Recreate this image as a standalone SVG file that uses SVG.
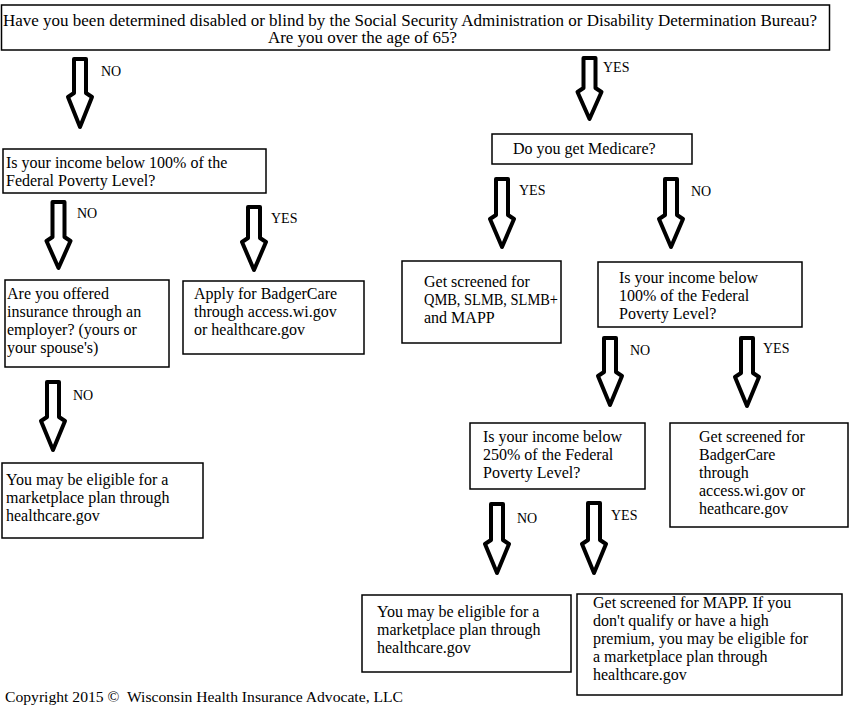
<svg xmlns="http://www.w3.org/2000/svg" width="856" height="710" viewBox="0 0 856 710">
<style>
  .box { fill: #fff; stroke: #000; stroke-width: 1.5; }
  .t { font-family: "Liberation Serif", "Times New Roman", serif; font-size: 16px; fill: #000; }
  .lbl { font-family: "Liberation Serif", "Times New Roman", serif; font-size: 14px; fill: #000; }
  .copy { font-family: "Liberation Serif", "Times New Roman", serif; font-size: 14.5px; fill: #000; }
  .arrow { fill: #fff; stroke: #000; stroke-width: 4; stroke-linejoin: round; }
</style>
<rect width="856" height="710" fill="#fff"/>

<g id="q-disabled">
  <rect class="box" x="1.5" y="5" width="828" height="45"/>
  <text class="t" x="3" y="26" textLength="814" lengthAdjust="spacingAndGlyphs">Have you been determined disabled or blind by the Social Security Administration or Disability Determination Bureau?</text>
  <text class="t" x="268" y="43" textLength="189" lengthAdjust="spacingAndGlyphs">Are you over the age of 65?</text>
</g>

<g id="q-income100-left">
  <rect class="box" x="3" y="149" width="263" height="44"/>
  <text class="t" x="6" y="168">Is your income below 100% of the</text>
  <text class="t" x="6" y="186">Federal Poverty Level?</text>
</g>

<g id="q-medicare">
  <rect class="box" x="492" y="134" width="200" height="30"/>
  <text class="t" x="513" y="154">Do you get Medicare?</text>
</g>

<g id="q-employer">
  <rect class="box" x="5" y="280" width="164" height="87"/>
  <text class="t" x="7" y="299">Are you offered</text>
  <text class="t" x="7" y="317">insurance through an</text>
  <text class="t" x="7" y="335">employer? (yours or</text>
  <text class="t" x="7" y="353">your spouse's)</text>
</g>

<g id="r-badgercare-left">
  <rect class="box" x="183" y="281" width="181" height="73"/>
  <text class="t" x="194" y="299">Apply for BadgerCare</text>
  <text class="t" x="194" y="317">through access.wi.gov</text>
  <text class="t" x="194" y="335">or healthcare.gov</text>
</g>

<g id="r-marketplace-left">
  <rect class="box" x="2" y="463" width="201" height="75"/>
  <text class="t" x="6" y="485">You may be eligible for a</text>
  <text class="t" x="6" y="503">marketplace plan through</text>
  <text class="t" x="6" y="521">healthcare.gov</text>
</g>

<g id="r-qmb">
  <rect class="box" x="402" y="261" width="159" height="82"/>
  <text class="t" x="424" y="287">Get screened for</text>
  <text class="t" x="424" y="305" textLength="134" lengthAdjust="spacingAndGlyphs">QMB, SLMB, SLMB+</text>
  <text class="t" x="424" y="323">and MAPP</text>
</g>

<g id="q-income100-right">
  <rect class="box" x="598" y="262" width="204" height="65"/>
  <text class="t" x="619" y="283">Is your income below</text>
  <text class="t" x="619" y="301">100% of the Federal</text>
  <text class="t" x="619" y="319">Poverty Level?</text>
</g>

<g id="q-income250">
  <rect class="box" x="470" y="423" width="175" height="66"/>
  <text class="t" x="483" y="442">Is your income below</text>
  <text class="t" x="483" y="460">250% of the Federal</text>
  <text class="t" x="483" y="478">Poverty Level?</text>
</g>

<g id="r-badgercare-right">
  <rect class="box" x="670" y="423" width="178" height="104"/>
  <text class="t" x="699" y="442">Get screened for</text>
  <text class="t" x="699" y="460">BadgerCare</text>
  <text class="t" x="699" y="478">through</text>
  <text class="t" x="699" y="496">access.wi.gov or</text>
  <text class="t" x="699" y="514">heathcare.gov</text>
</g>

<g id="r-marketplace-right">
  <rect class="box" x="362" y="595" width="209" height="77"/>
  <text class="t" x="377" y="617">You may be eligible for a</text>
  <text class="t" x="377" y="635">marketplace plan through</text>
  <text class="t" x="377" y="653">healthcare.gov</text>
</g>

<g id="r-mapp">
  <rect class="box" x="577" y="594" width="265" height="101"/>
  <text class="t" x="593" y="608">Get screened for MAPP. If you</text>
  <text class="t" x="593" y="626">don't qualify or have a high</text>
  <text class="t" x="593" y="644">premium, you may be eligible for</text>
  <text class="t" x="593" y="662">a marketplace plan through</text>
  <text class="t" x="593" y="680">healthcare.gov</text>
</g>

<g id="connectors">
  <polygon class="arrow" points="74,59 86,59 86,93 92,97 80,127 68,97 74,93"/>
  <text class="lbl" x="101" y="76">NO</text>
  <polygon class="arrow" points="583.5,58 595.5,58 595.5,88 601.5,92 589.5,119 577.5,92 583.5,88"/>
  <text class="lbl" x="603" y="72">YES</text>
  <polygon class="arrow" points="52.5,202 64.5,202 64.5,237 70.5,241 58.5,268 46.5,241 52.5,237"/>
  <text class="lbl" x="77" y="218">NO</text>
  <polygon class="arrow" points="248,207 260,207 260,238 266,242 254,270 242,242 248,238"/>
  <text class="lbl" x="271" y="223">YES</text>
  <polygon class="arrow" points="47,382 59,382 59,417 65,421 53,450 41,421 47,417"/>
  <text class="lbl" x="73" y="400">NO</text>
  <polygon class="arrow" points="496,179 508,179 508,215 514,219 502,247 490,219 496,215"/>
  <text class="lbl" x="519" y="195">YES</text>
  <polygon class="arrow" points="665,179 677,179 677,215 683,219 671,247 659,219 665,215"/>
  <text class="lbl" x="691" y="196">NO</text>
  <polygon class="arrow" points="604,338 616,338 616,372 622,376 610,405 598,376 604,372"/>
  <text class="lbl" x="630" y="355">NO</text>
  <polygon class="arrow" points="741,338 753,338 753,373 759,377 747,406 735,377 741,373"/>
  <text class="lbl" x="763" y="353">YES</text>
  <polygon class="arrow" points="491,504 503,504 503,540 509,544 497,573 485,544 491,540"/>
  <text class="lbl" x="517" y="523">NO</text>
  <polygon class="arrow" points="588,503 600,503 600,540 606,544 594,573 582,544 588,540"/>
  <text class="lbl" x="611" y="520">YES</text>
</g>

<g id="footer">
  <text class="copy" x="5" y="702" textLength="398" lengthAdjust="spacingAndGlyphs" xml:space="preserve">Copyright 2015 ©  Wisconsin Health Insurance Advocate, LLC</text>
</g>
</svg>
